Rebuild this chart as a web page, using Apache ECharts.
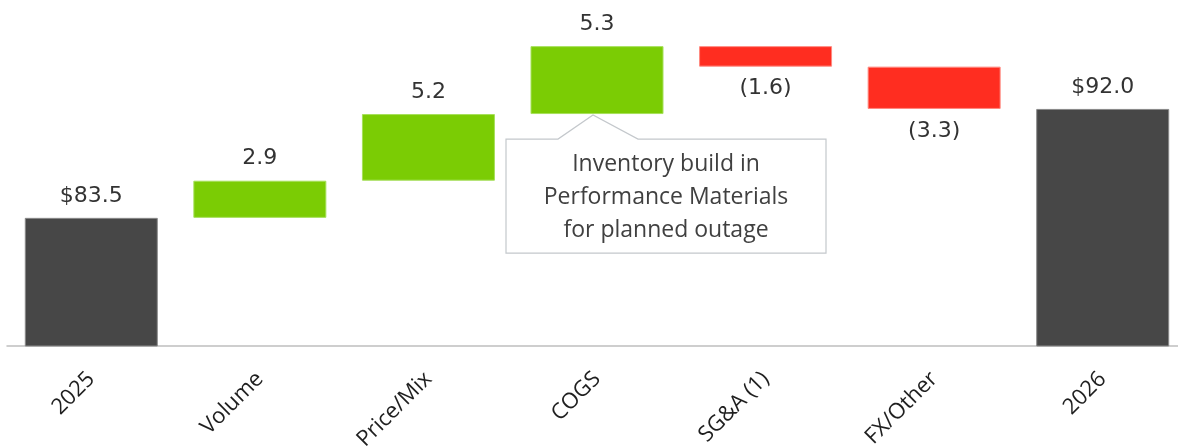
<!DOCTYPE html>
<html><head><meta charset="utf-8">
<script src="https://cdn.jsdelivr.net/npm/echarts@6/dist/echarts.min.js"></script>
<style>html,body{margin:0;padding:0;background:#fff}#wrap{width:1178px;height:448px;overflow:hidden;position:relative}#c{position:absolute;left:0;top:0;width:1187px;height:448px}</style>
</head><body><div id="wrap"><div id="c"></div></div>
<script>
const categories = ['2025', 'Volume', 'Price/Mix', 'COGS', 'SG&A (1)', 'FX/Other', '2026'];
const startValue = 83.5;
const deltas = [2.9, 5.2, 5.3, -1.6, -3.3];
const endValue = 92.0;
const noteText = ['Inventory build in', 'Performance Materials', 'for planned outage'];

const DARK = '#474747', GREEN = '#7bcc04', RED = '#ff2d20';
const base = [], vis = [];
base.push(0); vis.push({value: startValue, itemStyle: {color: DARK, borderColor: '#8a8a8a'}, label: {position: 'top', formatter: '$' + startValue.toFixed(1)}});
let cum = startValue;
deltas.forEach(d => {
  if (d >= 0) {
    base.push(cum);
    vis.push({value: d, itemStyle: {color: GREEN, borderColor: '#a6e05a'}, label: {position: 'top', formatter: d.toFixed(1)}});
  } else {
    base.push(+(cum + d).toFixed(2));
    vis.push({value: -d, itemStyle: {color: RED, borderColor: '#ff8a80'}, label: {position: 'bottom', formatter: '(' + (-d).toFixed(1) + ')'}});
  }
  cum = +(cum + d).toFixed(2);
});
base.push(0); vis.push({value: endValue, itemStyle: {color: DARK, borderColor: '#8a8a8a'}, label: {position: 'top', formatter: '$' + endValue.toFixed(1)}});

const chart = echarts.init(document.getElementById('c'), null, {renderer: 'canvas'});
chart.setOption({
  animation: false,
  grid: {left: 7, top: 0, right: 0, height: 346, containLabel: false, outerBoundsMode: 'none'},
  xAxis: {
    type: 'category', data: categories,
    axisLine: {lineStyle: {color: '#bfbfbf', width: 1.5}},
    axisTick: {alignWithLabel: true, length: 5, lineStyle: {color: '#bfbfbf'}},
    axisLabel: {rotate: 45, interval: 0, margin: 14, verticalAlign: 'top', padding: [0, 11, 0, 0],
                color: '#1f1f1f', fontFamily: 'Open Sans', fontSize: 22}
  },
  yAxis: {type: 'value', min: 73.5, max: 100.5, show: false, splitLine: {show: false}},
  series: [
    {type: 'bar', stack: 'w', data: base, itemStyle: {color: 'transparent'}, barWidth: 133, silent: true},
    {type: 'bar', stack: 'w', data: vis, barWidth: 133,
     itemStyle: {borderWidth: 1},
     label: {show: true, distance: 11, color: '#333', fontFamily: 'DejaVu Sans', fontSize: 22}}
  ]
});

const tip = chart.convertToPixel({xAxisIndex: 0, yAxisIndex: 0}, [3, base[3]]);
const tx = tip[0] - 4, ty = tip[1] + 1;
const bx0 = tx - 87, bx1 = tx + 233, by0 = ty + 24, by1 = ty + 138;
chart.setOption({
  graphic: [
    {type: 'polygon', shape: {points: [[bx0, by0], [tx - 35, by0], [tx, ty], [tx + 45, by0], [bx1, by0], [bx1, by1], [bx0, by1]]},
     style: {fill: '#fff', stroke: '#c4c8cc', lineWidth: 1.2}, z: 100},
    {type: 'text', x: (bx0 + bx1) / 2, y: (by0 + by1) / 2 + 1, z: 101,
     style: {text: noteText.join('\n'), align: 'center', verticalAlign: 'middle', fill: '#404040',
             font: '23px "Open Sans"', lineHeight: 33}}
  ]
});
</script></body></html>
